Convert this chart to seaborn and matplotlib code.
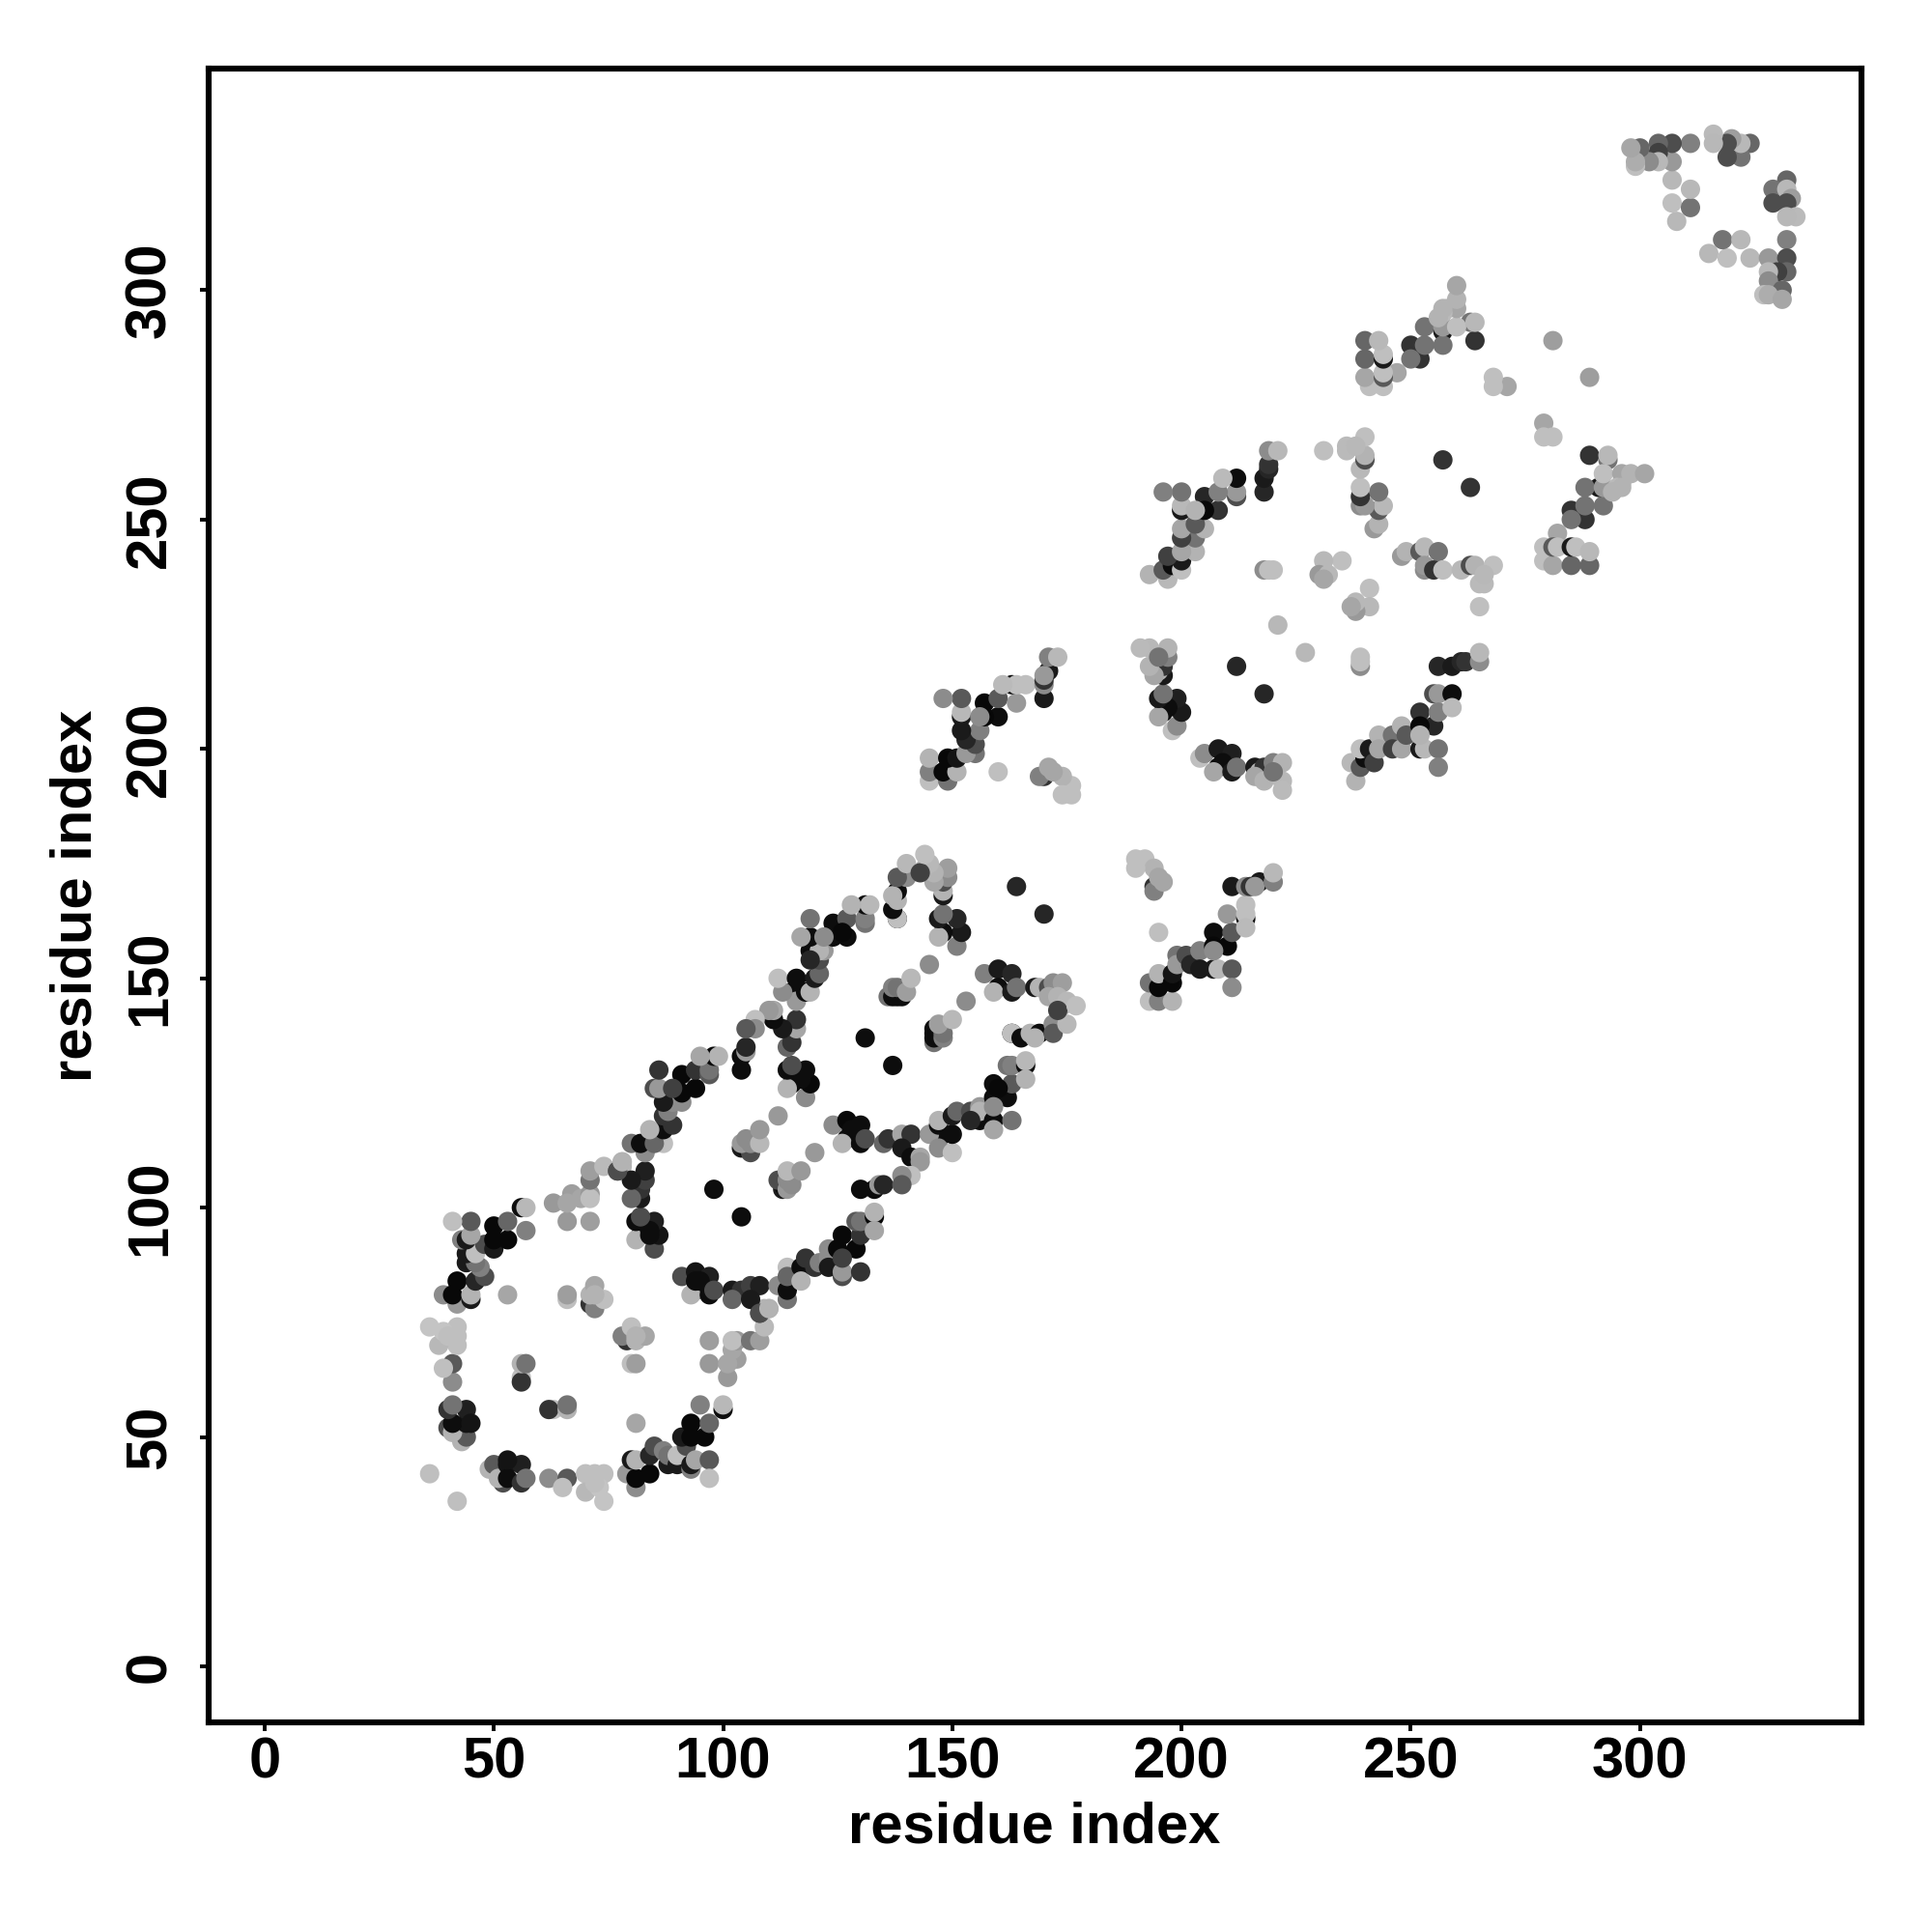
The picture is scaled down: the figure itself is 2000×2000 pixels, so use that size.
import matplotlib
matplotlib.use("Agg")
import matplotlib.pyplot as plt
import numpy as np
import pandas as pd
import seaborn as sns

# Contacts are symmetric: one triangle is listed, the other is its mirror.
ring1_i = [42,49,50,52,51,53,53,56,53,56,57,62,66,65,70,72,74,70,73,74,72,
           79,81,81,80,81,84,84,85,87,88,88,90,90,92,91,93,93,94,93,97,97,96,93,97,
           95,100,100,81,101,97,103,101,102,97,103,102,106,108,109,108,109,110,
           63,62,66,66,80,81,79,78,81,83,80,81]
ring1_j = [36,43,44,40,41,44,41,44,45,40,41,41,41,39,42,42,42,38,39,36,40,
           42,39,41,45,45,42,46,48,47,44,46,44,46,48,50,43,44,45,50,45,41,50,53,53,
           57,56,57,53,63,66,67,66,69,71,71,71,71,71,74,77,78,78,
           56,56,56,57,66,66,71,72,71,72,74,72]
ring1_g = [.75,.7,.35,.3,.7,.08,.05,.12,.08,.2,.45,.55,.35,.75,.75,.75,.75,.72,.77,.77,.75,
           .6,.55,.03,.1,.7,.03,.15,.3,.5,.1,.45,.1,.75,.3,.1,.5,.1,.65,.03,.35,.75,.03,.03,.4,
           .5,.05,.72,.65,.6,.6,.62,.65,.65,.62,.6,.75,.45,.62,.73,.3,.7,.75,
           .75,.2,.7,.45,.75,.62,.2,.5,.7,.65,.75,.7]

ring2_i = [91,94,94,97,93,94,95,97,98,102,104,102,106,108,106,108,110,112,114,114,114,114,117,
           117,118,120,121,123,123,123,126,126,130,126,125,129,126,130,129,130,133,133,133,
           113,113,113,112,114,114,115,114,117,120,104,130,133,134,135]
ring2_j = [85,86,82,85,81,84,84,81,82,82,82,80,83,83,80,77,78,83,80,82,87,85,87,
           84,89,87,88,89,91,87,85,86,86,94,91,91,89,94,97,97,98,99,95,
           104,105,106,106,104,106,105,108,108,112,98,104,104,105,105]
ring2_g = [.3,.08,.05,.12,.7,.05,.05,.05,.3,.1,.2,.4,.25,.12,.1,.3,.7,.55,.45,.05,.75,.4,.05,
           .7,.2,.2,.5,.55,.55,.1,.3,.6,.2,.03,.03,.03,.25,.2,.35,.45,.03,.7,.65,
           .1,.05,.1,.3,.6,.55,.55,.72,.6,.6,.05,.05,.05,.6,.15]

ring3_i = [124,127,130,127,128,126,130,131,135,136,139,141,139,141,143,143,141,139,139,
           147,145,147,147,147,150,150,150,151,154,156,156,156,154,159,159,163,
           159,162,159,163,160,159,162,163,166,166,166,
           163,163,165,167,169,168,172,172,175,153,146,146,146,146,148,148,147,150,137]
ring3_j = [118,119,118,115,117,114,114,115,114,115,116,116,113,111,111,110,107,107,105,
           115,116,118,119,113,112,116,120,121,121,119,122,121,119,119,117,119,
           127,124,124,127,126,122,131,131,131,132,128,
           138,138,137,138,138,137,140,138,140,145,136,137,138,139,137,138,140,141,131]
ring3_g = [.55,.03,.05,.05,.05,.7,.05,.3,.4,.2,.65,.2,.1,.05,.65,.6,.75,.55,.35,
           .05,.6,.05,.7,.55,.75,.05,.1,.4,.3,.05,.6,.7,.15,.05,.65,.45,
           .05,.05,.05,.35,.03,.55,.45,.5,.05,.72,.7,
           .05,.75,.05,.7,.05,.7,.55,.35,.72,.55,.45,.05,.05,.05,.5,.45,.62,.72,.05]

ring3b_i = [157,160,163,160,159,163,164,168,169,171,172,174,171,173,174,175,173,177,170]
ring3b_j = [151,152,151,148,147,147,148,148,148,148,149,149,146,146,144,145,143,144,164]
ring3b_g = [.5,.1,.15,.05,.7,.1,.45,.1,.7,.3,.55,.62,.65,.7,.7,.72,.25,.75,.15]

ring4_i = [193,195,198,193,195,195,198,198,199,199,201,202,204,204,207,208,211,211,
           207,210,207,211,207,210,214,214,214,214,
           211,214,215,217,216,220,220,195,
           194,194,190,192,194,190,195,196]
ring4_j = [145,145,145,149,148,151,149,151,155,153,155,153,156,152,152,152,152,148,
           160,157,157,160,156,164,163,164,166,161,
           170,170,170,171,170,171,173,160,
           170,169,176,176,174,174,172,171]
ring4_g = [.75,.5,.7,.45,.03,.7,.03,.08,.45,.6,.3,.15,.5,.1,.1,.72,.35,.55,
           .05,.03,.03,.35,.55,.6,.03,.75,.75,.73,
           .1,.55,.2,.1,.6,.5,.72,.75,
           .2,.5,.75,.75,.7,.75,.65,.65]

ring5_i = [204,205,208,211,208,209,207,211,212,216,217,218,220,222,216,218,222,222,220,218,227]
ring5_j = [198,199,200,199,196,197,195,195,196,196,195,196,197,197,194,193,193,191,195,212,221]
ring5_g = [.75,.55,.1,.12,.05,.05,.65,.1,.45,.1,.7,.2,.5,.7,.65,.7,.72,.73,.45,.15,.72]

ring6_i = [238,237,239,240,239,241,242,243,243,246,246,248,248,249,252,255,252,252,253,256,256,252,
           255,256,259,256,259,256,259,261,262,265,265,239,239,239]
ring6_j = [193,197,196,198,200,200,197,203,200,203,200,200,205,203,208,205,205,200,200,200,196,203,
           212,212,212,208,209,218,218,219,219,219,221,218,220,219]
ring6_g = [.7,.72,.35,.05,.75,.1,.25,.7,.65,.45,.25,.65,.7,.35,.2,.15,.03,.1,.72,.45,.5,.7,
           .3,.6,.05,.5,.73,.15,.1,.15,.2,.55,.72,.55,.75,.75]

ring7_i = [279,279,281,282,281,282,285,285,286,289,289,
           285,288,285,288,292,291,288,292,289,293,293,292,296,296,298,301,295,296,294,
           289,279,279,281,
           248,249,252,253,256,253,253,255,257,261,263,264,268,265,266,266,265,
           241,241,238,238,237,263]
ring7_j = [244,241,240,247,244,244,240,244,244,240,243,
           252,250,250,253,253,257,257,257,264,263,264,260,258,260,260,260,257,257,256,
           281,271,268,268,
           242,243,243,244,243,239,240,239,239,239,240,240,240,236,236,238,231,
           235,231,230,232,231,257]
ring7_g = [.75,.75,.65,.65,.35,.75,.4,.1,.75,.4,.72,
           .2,.2,.45,.45,.45,.1,.45,.6,.2,.45,.72,.75,.72,.65,.7,.65,.73,.7,.7,
           .62,.65,.75,.75,
           .6,.7,.35,.72,.45,.55,.6,.2,.75,.72,.3,.7,.75,.73,.73,.72,.75,
           .75,.72,.6,.72,.65,.2]

ring8_i = [315,319,318,322,324,328,332,332,332,330,328,328,331,327,328,331,332,329,332,333,329,332,334,332]
ring8_j = [308,307,311,311,307,307,311,307,304,304,304,302,300,299,299,298,324,322,322,320,319,319,316,316]
ring8_g = [.72,.75,.45,.72,.72,.6,.5,.3,.4,.25,.72,.55,.4,.75,.68,.65,.4,.45,.72,.62,.3,.3,.73,.72]

tick_values = [0, 50, 100, 150, 200, 250, 300]
axis_title = "residue index"

i = ring1_i + ring2_i + ring3_i + ring3b_i + ring4_i + ring5_i + ring6_i + ring7_i + ring8_i
j = ring1_j + ring2_j + ring3_j + ring3b_j + ring4_j + ring5_j + ring6_j + ring7_j + ring8_j
g = ring1_g + ring2_g + ring3_g + ring3b_g + ring4_g + ring5_g + ring6_g + ring7_g + ring8_g
assert len(i) == len(j) == len(g), (len(i), len(j), len(g))

df = pd.DataFrame({"x": i + j, "y": j + i, "shade": g + g})

sns.set_theme(style="white")
plt.rcParams["font.family"] = ["Liberation Sans", "DejaVu Sans"]
plt.rcParams["font.weight"] = "bold"

fig = plt.figure(figsize=(10, 10), dpi=200, facecolor="white")
ax = fig.add_axes([216/2000, 1 - 1783/2000, (1927 - 216)/2000, (1783 - 71)/2000])

palette = {v: str(v) for v in sorted(set(g))}
sns.scatterplot(data=df, x="x", y="y", hue="shade", palette=palette, s=52,
                linewidth=0, legend=False, ax=ax, zorder=3)

ax.set_xlim(-12.2, 348.3)
ax.set_ylim(-12.2, 348.3)
ax.set_xticks(tick_values)
ax.set_yticks(tick_values)
ax.set_xticklabels([str(t) for t in tick_values], fontsize=21.5, fontweight="bold")
ax.set_yticklabels([str(t) for t in tick_values], fontsize=21.5, fontweight="bold",
                   rotation=90, va="center")
ax.tick_params(axis="both", length=3.2, width=1.4, color="black", labelcolor="black",
               bottom=True, left=True)
ax.tick_params(axis="x", pad=2)
ax.tick_params(axis="y", pad=8.5)
for s in ax.spines.values():
    s.set_linewidth(2.2)
    s.set_color("black")
ax.grid(False)
ax.set_xlabel(axis_title, fontsize=21.5, fontweight="bold", color="black")
ax.set_ylabel(axis_title, fontsize=21.5, fontweight="bold", color="black")
ax.xaxis.set_label_coords((1071 - 216)/(1927 - 216), (1783 - 1892)/(1783 - 71),
                          transform=ax.transAxes)
ax.xaxis.label.set_va("center")
ax.yaxis.set_label_coords((79 - 216)/(1927 - 216), (1783 - 927)/(1783 - 71),
                          transform=ax.transAxes)
ax.yaxis.label.set_va("center")
fig.savefig("out.png", dpi=200, facecolor="white")
